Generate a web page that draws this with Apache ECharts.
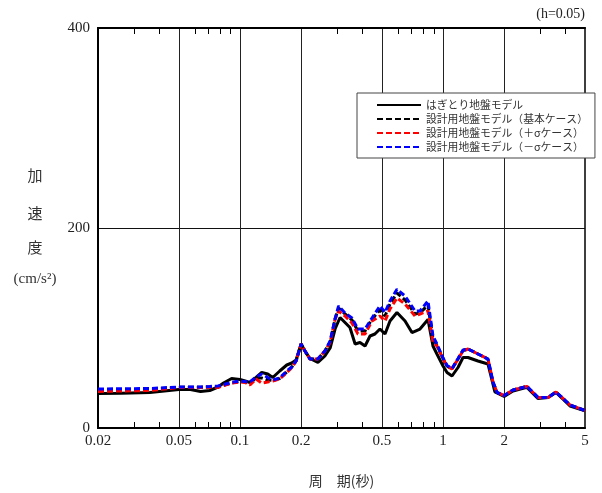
<!DOCTYPE html>
<html><head><meta charset="utf-8">
<script src="https://cdn.jsdelivr.net/npm/echarts@6/dist/echarts.min.js"></script>
<style>html,body{margin:0;padding:0;background:#fff}#c{width:602px;height:493px}</style>
</head><body><div id="c"></div>
<script>
// Periods (s) and spectral acceleration (cm/s^2)
const hagitoriT = [0.02,0.026,0.036,0.05,0.057,0.064,0.071,0.078,0.083,0.091,0.1,0.106,0.112,0.12,0.128,0.137,0.145,0.157,0.17,0.18,0.189,0.2,0.209,0.221,0.242,0.262,0.278,0.294,0.311,0.329,0.348,0.369,0.39,0.413,0.437,0.462,0.489,0.518,0.548,0.593,0.65,0.703,0.77,0.843,0.892,0.933,1.0,1.046,1.107,1.185,1.254,1.327,1.486,1.664,1.8,2.0,2.21,2.59,2.93,3.29,3.6,4.22,5];
const hagitoriV = [34.5,34.7,35.5,38.5,38.5,36.5,37.5,41,45,49.5,48.5,47,45.5,50.5,55.5,54,50.5,57,63,65,68,84,77,69.5,65.5,72,80,99,110.5,105.5,100.5,84,85.5,82,92,94,99,94,107,115.5,107,95.5,99,108.5,82,74,62,55.5,52,60.5,70.5,70.5,67,64,36,31.5,37,40.6,29.6,30.6,35.6,22,17.3];

const designT = [0.02,0.036,0.05,0.064,0.071,0.078,0.091,0.1,0.106,0.112,0.12,0.128,0.137,0.145,0.157,0.17,0.18,0.189,0.2,0.209,0.221,0.242,0.262,0.278,0.294,0.306,0.329,0.356,0.381,0.413,0.447,0.489,0.518,0.548,0.593,0.65,0.728,0.77,0.843,0.892,0.933,1.0,1.046,1.107,1.185,1.254,1.327,1.486,1.664,1.762,1.843,2.0,2.21,2.59,2.93,3.29,3.6,4.22,5];
const baseV  = [38,38.5,40.8,40.8,41,41,45,46.5,46,44.5,50,50,48,47.5,49.5,56,61,67,84,77,69,69,77,86,109,120,114,108,97,97,109,118,112,124,135,128,114,115,123,89,83,69.5,62,59,69,77.5,79,74,69,46,35.6,32.5,38,41.6,30.6,30.6,36,23,17.5];
const plusV  = [36.6,37.5,40.5,40.5,40.8,40.6,45,46,45.5,43,49,45,46,47,49,55.5,60.5,67,84,77,69,69,77,85.5,109,117,112,105,94,94,107,112,107,119,130,124,112,114,117,86,82,69,62,59,69,77,79,74,69,46,35.6,32.5,38,41.6,30.6,30.6,36,23,17.5];
const minusV = [39,39.5,41,41,41.5,42,45.5,47,46.5,46,51,54,50.5,48,50,57,61,67,84,77,69,69,77,87,109,122,115,110,99,99,110,122,115.7,127,138.7,132,117,117,127,92,84,70,62.5,59.5,69.5,78,79,74,69,46,35.6,32.5,38,41.6,30.6,30.6,36,23,17.5];

const seriesNames = ['はぎとり地盤モデル','設計用地盤モデル（基本ケース）','設計用地盤モデル（＋σケース）','設計用地盤モデル（－σケース）'];
const xLabelValues = [0.02,0.05,0.1,0.2,0.5,1,2,5];
const xGridValues = [0.05,0.1,0.2,0.5,1,2];
const xMinorTicks = [0.03,0.04,0.06,0.07,0.08,0.09,0.3,0.4,0.6,0.7,0.8,0.9,3,4];
const yTicks = [0,200,400];

const zip = (t, v) => t.map((x, i) => [x, v[i]]);
const serif = 'Liberation Serif';
const jp = 'Noto Sans CJK JP';

const chart = echarts.init(document.getElementById('c'), null, {renderer:'canvas'});
const xBase = {type:'log', logBase:10, min:0.02, max:5, gridIndex:0};
const dash = [6,3];
chart.setOption({
  animation:false,
  backgroundColor:'#fff',
  grid:{left:98, right:17, top:28, bottom:64, show:true, borderColor:'#000', borderWidth:1.5, backgroundColor:'transparent'},
  xAxis:[
    Object.assign({}, xBase, {position:'bottom',
      axisLine:{show:true, lineStyle:{color:'#000', width:2}},
      axisTick:{show:true, inside:true, length:6, customValues:xMinorTicks, lineStyle:{color:'#000', width:1}},
      axisLabel:{show:true, customValues:xLabelValues, margin:6, color:'#222', fontFamily:serif, fontSize:15,
        formatter:v=>String(Math.round(v*100)/100)},
      splitLine:{show:false},
      name:'周\u3000期(秒)', nameLocation:'middle', nameGap:46,
      nameTextStyle:{fontFamily:jp, fontSize:14, color:'#333'}}),
    Object.assign({}, xBase, {position:'bottom',
      axisLine:{show:false}, axisLabel:{show:false},
      axisTick:{show:false, customValues:xGridValues},
      splitLine:{show:true, lineStyle:{color:'#222', width:1}}}),
    Object.assign({}, xBase, {position:'top',
      axisLine:{show:true, lineStyle:{color:'#000', width:2}}, axisLabel:{show:false},
      axisTick:{show:true, inside:true, length:6, customValues:xMinorTicks, lineStyle:{color:'#000', width:1}},
      splitLine:{show:false}})
  ],
  yAxis:{type:'value', min:yTicks[0], max:yTicks[2], interval:200,
    axisLine:{show:true, lineStyle:{color:'#000', width:2}},
    axisTick:{show:false},
    axisLabel:{color:'#222', fontFamily:serif, fontSize:15, margin:8},
    splitLine:{show:true, lineStyle:{color:'#111', width:1}}},
  legend:{
    orient:'vertical', left:357, top:93,
    padding:[5,7,4,19], itemGap:0, itemWidth:44, itemHeight:10,
    backgroundColor:'#fff', borderColor:'#444', borderWidth:1,
    itemStyle:{opacity:0},
    textStyle:{fontFamily:jp, fontSize:10.8, color:'#333', lineHeight:14},
    data:seriesNames
  },
  graphic:[
    {type:'text', right:17, top:7, style:{text:'(h=0.05)', font:'14px "Liberation Serif"', fill:'#222'}},
    {type:'text', x:35, y:175, style:{text:'加', font:'15px "Noto Sans CJK JP"', fill:'#333', align:'center', verticalAlign:'middle'}},
    {type:'text', x:35, y:213, style:{text:'速', font:'15px "Noto Sans CJK JP"', fill:'#333', align:'center', verticalAlign:'middle'}},
    {type:'text', x:35, y:247, style:{text:'度', font:'15px "Noto Sans CJK JP"', fill:'#333', align:'center', verticalAlign:'middle'}},
    {type:'text', x:35, y:279, style:{text:'(cm/s²)', font:'15px "Liberation Serif"', fill:'#333', align:'center', verticalAlign:'middle'}}
  ],
  series:[
    {name:seriesNames[0], type:'line', xAxisIndex:0, showSymbol:false, symbol:'none', data:zip(hagitoriT, hagitoriV),
      lineStyle:{color:'#000', width:3, type:'solid'}, itemStyle:{color:'#000'}, z:2},
    {name:seriesNames[1], type:'line', xAxisIndex:0, showSymbol:false, symbol:'none', data:zip(designT, baseV),
      lineStyle:{color:'#000', width:3, type:dash}, itemStyle:{color:'#000'}, z:3},
    {name:seriesNames[2], type:'line', xAxisIndex:0, showSymbol:false, symbol:'none', data:zip(designT, plusV),
      lineStyle:{color:'#f00', width:3, type:dash}, itemStyle:{color:'#f00'}, z:4},
    {name:seriesNames[3], type:'line', xAxisIndex:0, showSymbol:false, symbol:'none', data:zip(designT, minusV),
      lineStyle:{color:'#00f', width:3, type:dash}, itemStyle:{color:'#00f'}, z:5}
  ]
});
</script></body></html>
